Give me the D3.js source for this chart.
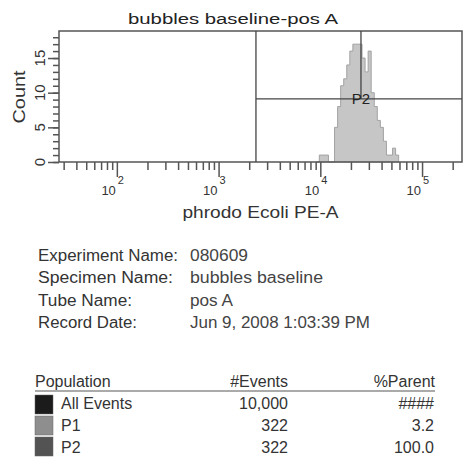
<!DOCTYPE html>
<html>
<head>
<meta charset="utf-8">
<script src="https://cdn.jsdelivr.net/npm/d3@7"></script>
<style>
  body { margin: 0; background: #fff; }
  svg { display: block; font-family: "Liberation Sans", Arial, sans-serif; }
</style>
</head>
<body>
<svg id="chart" width="463" height="457"></svg>
<script>
// ---- data ----
const title = "bubbles baseline-pos A";
const xLabel = "phrodo Ecoli PE-A";
const yLabel = "Count";

// histogram: bins in log10 space, counts per bin
const binStartLog = 3.96;
const binWidthLog = 0.03;
const counts = [0, 1, 1, 1, 0, 0, 5, 8, 11, 12, 14, 16, 17, 17, 17, 15, 13, 16, 10, 8, 6, 5, 3, 1, 1, 2, 1];

const xMin = 27, xMax = 247000;
const yMax = 18.9;
const majorX = [100, 1000, 10000, 100000];
const majorExp = ["2", "3", "4", "5"];
const majorY = [0, 5, 10, 15];

// gates
const gateP1Left = 2330;
const gateP2Mark = 25100;
const gateP2Level = 9.1;
const gateP2Name = "P2";

const infoLabels = ["Experiment Name:", "Specimen Name:", "Tube Name:", "Record Date:"];
const infoValues = ["080609", "bubbles baseline", "pos A", "Jun 9, 2008 1:03:39 PM"];

const popHeaders = ["Population", "#Events", "%Parent"];
const popNames = ["All Events", "P1", "P2"];
const popEvents = ["10,000", "322", "322"];
const popParent = ["####", "3.2", "100.0"];
const popColors = ["#1b1b1b", "#8e8e8e", "#535353"];

// ---- layout ----
const svg = d3.select("#chart");
const plot = { left: 59, right: 462, top: 31, bottom: 162 };
const ink = "#333";
const axisInk = "#555";

function fit(sel, w) {
  return sel.attr("textLength", w).attr("lengthAdjust", "spacingAndGlyphs");
}

const x = d3.scaleLog().domain([xMin, xMax]).range([plot.left, plot.right]);
const y = d3.scaleLinear().domain([0, yMax]).range([plot.bottom, plot.top]);

// histogram as one stepped area
const bins = counts.map((c, i) => ({
  x0: Math.pow(10, binStartLog + i * binWidthLog),
  x1: Math.pow(10, binStartLog + (i + 1) * binWidthLog),
  c: c
}));
const stepPts = bins.map(d => [d.x0, d.c]);
stepPts.push([bins[bins.length - 1].x1, 0]);

svg.append("path")
  .datum(stepPts)
  .attr("fill", "#c6c6c6")
  .attr("stroke", "#a2a2a2")
  .attr("stroke-width", 1)
  .attr("d", d3.area().x(d => x(d[0])).y0(y(0)).y1(d => y(d[1])).curve(d3.curveStepAfter));

// frame
svg.append("rect")
  .attr("x", plot.left).attr("y", plot.top)
  .attr("width", plot.right - plot.left).attr("height", plot.bottom - plot.top)
  .attr("fill", "none").attr("stroke", axisInk).attr("stroke-width", 1.5);

// gates
const gates = svg.append("g").attr("stroke", "#444").attr("stroke-width", 1.3);
gates.append("line")
  .attr("x1", x(gateP1Left)).attr("x2", x(gateP1Left))
  .attr("y1", plot.top).attr("y2", plot.bottom);
gates.append("line")
  .attr("x1", x(gateP1Left)).attr("x2", plot.right)
  .attr("y1", y(gateP2Level)).attr("y2", y(gateP2Level));
gates.append("line")
  .attr("x1", x(gateP2Mark)).attr("x2", x(gateP2Mark))
  .attr("y1", plot.top).attr("y2", y(gateP2Level));
svg.append("text")
  .attr("x", x(gateP2Mark)).attr("y", y(gateP2Level) + 5)
  .attr("text-anchor", "middle").attr("font-size", 15).attr("fill", "#222")
  .text(gateP2Name);

// x axis ticks
const minorX = [];
[10, 100, 1000, 10000, 100000].forEach(dec => {
  for (let k = 2; k <= 9; k++) {
    const v = dec * k;
    if (v > xMin && v < xMax) minorX.push(v);
  }
});
function styleAxis(g) {
  g.select(".domain").remove();
  g.selectAll(".tick line").attr("stroke", axisInk).attr("stroke-width", 1.5);
  g.selectAll(".tick text").remove();
}
svg.append("g")
  .attr("transform", `translate(0,${plot.bottom})`)
  .call(d3.axisBottom(x).tickValues(minorX).tickSize(8))
  .call(styleAxis);
svg.append("g")
  .attr("transform", `translate(0,${plot.bottom})`)
  .call(d3.axisBottom(x).tickValues(majorX).tickSize(15))
  .call(styleAxis);

majorX.forEach((v, i) => {
  svg.append("text")
    .attr("x", x(v) - 1).attr("y", 195)
    .attr("text-anchor", "end").attr("font-size", 13).attr("fill", ink)
    .text("10");
  svg.append("text")
    .attr("x", x(v) + 1).attr("y", 184)
    .attr("font-size", 11).attr("fill", ink)
    .text(majorExp[i]);
});

// y axis ticks
svg.append("g")
  .attr("transform", `translate(${plot.left},0)`)
  .call(d3.axisLeft(y).tickValues(d3.range(0, 19, 1)).tickSize(6))
  .call(styleAxis);
svg.append("g")
  .attr("transform", `translate(${plot.left},0)`)
  .call(d3.axisLeft(y).tickValues(majorY).tickSize(11))
  .call(styleAxis);
majorY.forEach(v => {
  svg.append("text")
    .attr("transform", `translate(45,${y(v)}) rotate(-90)`)
    .attr("text-anchor", "middle").attr("font-size", 15).attr("fill", ink)
    .text(v);
});

// titles
fit(svg.append("text")
  .attr("x", 233).attr("y", 24)
  .attr("text-anchor", "middle").attr("font-size", 15.5).attr("fill", "#222")
  .text(title), 210);
fit(svg.append("text")
  .attr("x", (plot.left + plot.right) / 2).attr("y", 218)
  .attr("text-anchor", "middle").attr("font-size", 16).attr("fill", ink)
  .text(xLabel), 156);
fit(svg.append("text")
  .attr("transform", "translate(25,97) rotate(-90)")
  .attr("text-anchor", "middle").attr("font-size", 16).attr("fill", ink)
  .text(yLabel), 53);

// info block
const infoLabelW = [140, 135, 94, 99];
const infoValueW = [58, 133, 43, 180];
infoLabels.forEach((t, i) => {
  const by = 261 + i * 22.4;
  fit(svg.append("text").attr("x", 38).attr("y", by)
    .attr("font-size", 16).attr("fill", ink).text(t), infoLabelW[i]);
  fit(svg.append("text").attr("x", 190).attr("y", by)
    .attr("font-size", 16).attr("fill", "#444").text(infoValues[i]), infoValueW[i]);
});

// population table
const colX = [35, 288, 435];
popHeaders.forEach((t, i) => {
  svg.append("text").attr("x", colX[i]).attr("y", 387)
    .attr("text-anchor", i === 0 ? "start" : "end")
    .attr("font-size", 16).attr("fill", ink).text(t);
});
svg.append("line")
  .attr("x1", 35).attr("x2", 435).attr("y1", 391).attr("y2", 391)
  .attr("stroke", "#aaa").attr("stroke-width", 2);

const swTop = [395, 416, 437];
popNames.forEach((n, i) => {
  const by = 409 + i * 22;
  svg.append("rect").attr("x", 35).attr("y", swTop[i])
    .attr("width", 18).attr("height", 19)
    .attr("fill", popColors[i]).attr("stroke", "#666").attr("stroke-width", 0.5);
  svg.append("text").attr("x", 61).attr("y", by)
    .attr("font-size", 16).attr("fill", ink).text(n);
  svg.append("text").attr("x", 288).attr("y", by).attr("text-anchor", "end")
    .attr("font-size", 16).attr("fill", ink).text(popEvents[i]);
  svg.append("text").attr("x", 434).attr("y", by).attr("text-anchor", "end")
    .attr("font-size", 16).attr("fill", ink).text(popParent[i]);
});
</script>
</body>
</html>
